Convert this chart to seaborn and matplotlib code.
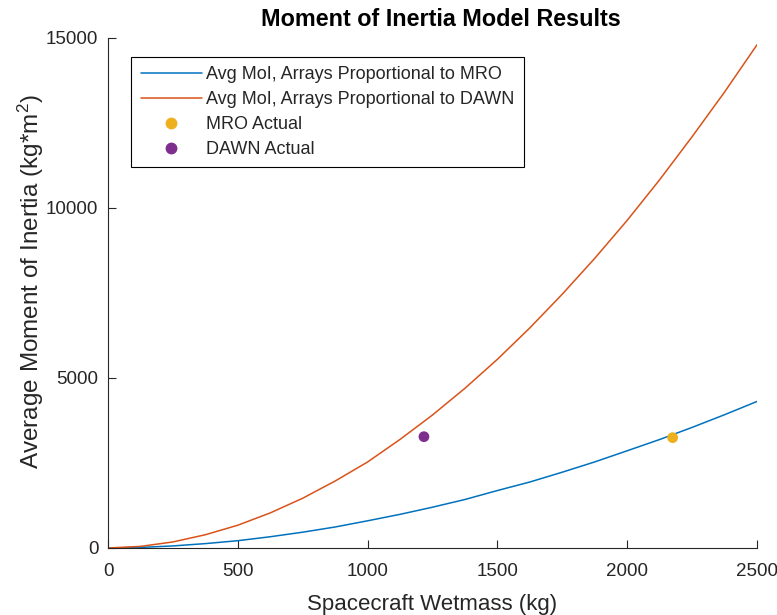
import matplotlib
matplotlib.use("Agg")
import matplotlib.pyplot as plt
import seaborn as sns
import pandas as pd
from matplotlib.lines import Line2D

# --- data ---
wetmass = [0, 125, 250, 375, 500, 625, 750, 875, 1000, 1125, 1250, 1375, 1500,
           1625, 1750, 1875, 2000, 2125, 2250, 2375, 2500]
moi_mro = [0, 17, 61, 129, 215, 331, 465, 618, 800, 990, 1200, 1427, 1690,
           1941, 2230, 2532, 2860, 3191, 3547, 3920, 4310]
moi_dawn = [0, 47, 178, 390, 670, 1032, 1464, 1970, 2530, 3194, 3912, 4698, 5550,
            6474, 7466, 8520, 9637, 10831, 12096, 13410, 14800]
actual_names = ["MRO Actual", "DAWN Actual"]
actual_mass = [2175, 1217]
actual_moi = [3245, 3274]

label_mro = "Avg MoI, Arrays Proportional to MRO"
label_dawn = "Avg MoI, Arrays Proportional to DAWN"

sns.set_style("ticks")
plt.rcParams["font.family"] = ["Liberation Sans", "DejaVu Sans"]
plt.rcParams["mathtext.fontset"] = "custom"
plt.rcParams["mathtext.rm"] = "Liberation Sans"
plt.rcParams["mathtext.it"] = "Liberation Sans:italic"
plt.rcParams["xtick.direction"] = "in"
plt.rcParams["ytick.direction"] = "in"

fig = plt.figure(figsize=(7.77, 6.15), dpi=100)
ax = fig.add_axes([108/777, 67/615, (757-108)/777, (548-38)/615])

df = pd.DataFrame({"m": wetmass * 2,
                   "I": moi_mro + moi_dawn,
                   "s": [label_mro] * len(wetmass) + [label_dawn] * len(wetmass)})
sns.lineplot(data=df, x="m", y="I", hue="s", palette=["#0072BD", "#D95319"],
             linewidth=1.1, ax=ax, legend=False)

dfa = pd.DataFrame({"m": actual_mass, "I": actual_moi, "s": actual_names})
sns.scatterplot(data=dfa, x="m", y="I", hue="s", palette=["#EDB120", "#7E2F8E"],
                s=60, edgecolor="none", ax=ax, legend=False, zorder=3)

handles = [Line2D([], [], color="#0072BD", lw=1.1),
           Line2D([], [], color="#D95319", lw=1.1),
           Line2D([], [], color="#EDB120", marker="o", ls="none", ms=7.5),
           Line2D([], [], color="#7E2F8E", marker="o", ls="none", ms=7.5)]
leg = ax.legend(handles, [label_mro, label_dawn] + actual_names, loc="upper left",
                bbox_to_anchor=(0.036, 0.9635), fontsize=13, frameon=True,
                fancybox=False, edgecolor="black", framealpha=1,
                handlelength=3.4, handletextpad=0.2, borderpad=0.52,
                labelspacing=0.44, borderaxespad=0)
leg.get_frame().set_linewidth(0.8)
for t in leg.get_texts():
    t.set_color("#262626")

ax.set_xlim(0, 2500)
ax.set_ylim(0, 15000)
ax.set_xticks([0, 500, 1000, 1500, 2000, 2500])
ax.set_yticks([0, 5000, 10000, 15000])
sns.despine(ax=ax)
for sp in ["left", "bottom"]:
    ax.spines[sp].set_color("#262626")
    ax.spines[sp].set_linewidth(0.8)
ax.tick_params(direction="in", colors="#262626", labelsize=13.5, length=6,
               width=0.8)
ax.tick_params(axis="x", pad=11)
ax.tick_params(axis="y", pad=7)

ax.set_xlabel("Spacecraft Wetmass (kg)", fontsize=16, color="#262626", labelpad=10)
ax.set_ylabel(r"Average Moment of Inertia (kg*m$^{2}$)", fontsize=17.5,
              color="#262626")
ax.yaxis.set_label_coords(-0.096, 0.522)
ax.set_title("Moment of Inertia Model Results", fontsize=16.8, fontweight="bold",
             color="black", pad=9, x=0.513)

fig.savefig("out.png", dpi=100)
